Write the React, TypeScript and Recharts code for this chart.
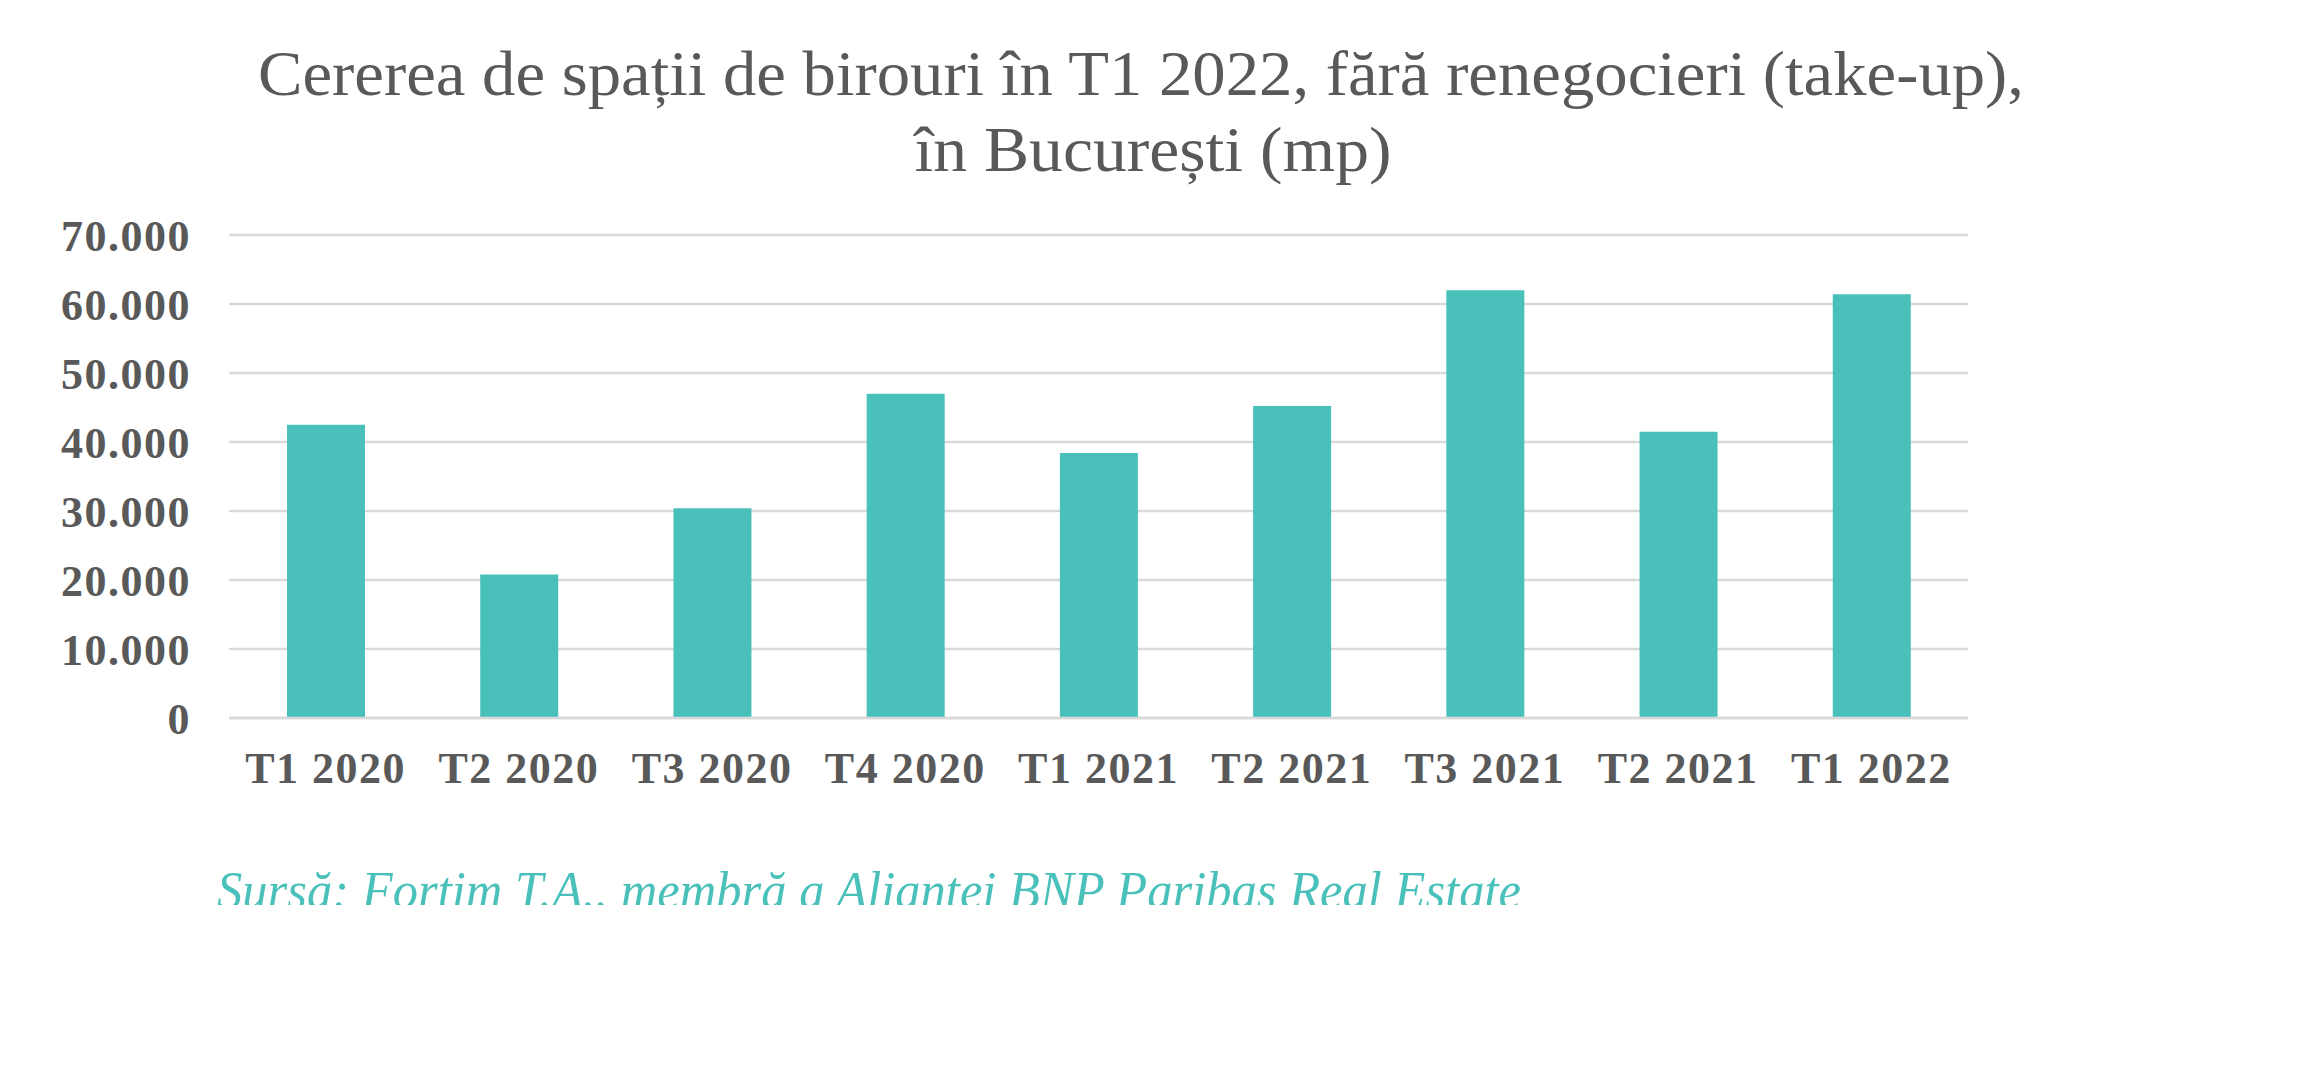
import { BarChart, Bar, XAxis, YAxis, CartesianGrid } from 'recharts';

// Office take-up per quarter, Bucharest (sqm)
const quarters = ['T1 2020', 'T2 2020', 'T3 2020', 'T4 2020', 'T1 2021', 'T2 2021', 'T3 2021', 'T2 2021', 'T1 2022'];
const takeUp = [42500, 20800, 30400, 47000, 38400, 45200, 62000, 41500, 61400];
const yTicks = [0, 10000, 20000, 30000, 40000, 50000, 60000, 70000];

const titleLines = ['Cererea de spații de birouri în T1 2022, fără renegocieri (take-up),', 'în București (mp)'];
const sourceText = 'Sursă: Fortim T.A.. membră a Aliantei BNP Paribas Real Estate';

const data = quarters.map((q, i) => ({ quarter: q, value: takeUp[i] }));

const TEAL = '#49c1ba';
const GREY = '#595959';
const GRID = '#d9d9d9';
const SERIF = '"Liberation Serif", "Times New Roman", serif';

// 70000 -> "70.000"
const fmt = (v: number) => String(v).replace(/\B(?=(\d{3})+(?!\d))/g, '.');

const tickStyle = { fill: GREY, fontSize: 44, fontWeight: 700, fontFamily: SERIF, letterSpacing: 1.5 };

export default function App() {
  return (
    <div style={{ position: 'relative', width: 2308, height: 1077, background: '#fff' }}>
      <style>{`body{margin:0}`}</style>
      <div style={{ position: 'absolute', left: 0, top: 0 }}>
        <BarChart
          width={2308}
          height={1077}
          data={data}
          margin={{ top: 235, right: 340, bottom: 0, left: 99 }}
        >
          <CartesianGrid vertical={false} stroke={GRID} strokeWidth={2.5} />
          <XAxis
            dataKey="quarter"
            height={359}
            axisLine={{ stroke: GRID, strokeWidth: 2.5 }}
            tickLine={false}
            tickSize={0}
            tickMargin={34}
            interval={0}
            tick={tickStyle}
          />
          <YAxis
            width={130}
            domain={[0, 70000]}
            ticks={yTicks}
            tickFormatter={fmt}
            axisLine={false}
            tickLine={false}
            tickSize={0}
            tickMargin={38}
            tick={tickStyle}
          />
          <Bar dataKey="value" fill={TEAL} barSize={78} isAnimationActive={false} />
        </BarChart>
      </div>
      <svg width={2308} height={1077} style={{ position: 'absolute', left: 0, top: 0, pointerEvents: 'none' }}>
        <defs>
          <clipPath id="srcClip">
            <rect x={0} y={820} width={2308} height={85} />
          </clipPath>
        </defs>
        <text x={1141} y={95} textAnchor="middle" fill={GREY} fontFamily={SERIF} fontSize={64}
          textLength={1766} lengthAdjust="spacingAndGlyphs">
          {titleLines[0]}
        </text>
        <text x={1153} y={171} textAnchor="middle" fill={GREY} fontFamily={SERIF} fontSize={64}
          textLength={477} lengthAdjust="spacingAndGlyphs">
          {titleLines[1]}
        </text>
        <g clipPath="url(#srcClip)">
          <text x={217} y={908} fill={TEAL} fontFamily={SERIF} fontStyle="italic" fontSize={53}
            textLength={1304} lengthAdjust="spacingAndGlyphs">
            {sourceText}
          </text>
        </g>
      </svg>
    </div>
  );
}
